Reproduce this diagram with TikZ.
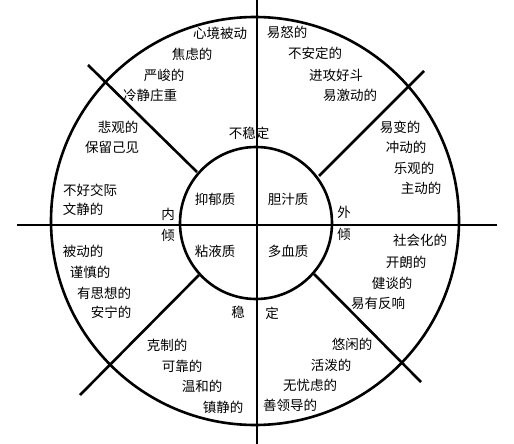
\documentclass[tikz,border=0pt]{standalone}
\usepackage{fontspec}
\newfontfamily\cjk{Noto Sans CJK SC}

\begin{document}
\begin{tikzpicture}[x=1pt, y=-1pt,
    ring/.style={line width=2.6pt},
    divider/.style={line width=2.6pt},
    word/.style={inner sep=0pt, font=\cjk\fontsize{13.5}{16}\selectfont}]
  \useasboundingbox (0,0) rectangle (514,444);
  \coordinate (oc) at (255,221);
  \coordinate (ic) at (256,223);
  \draw[ring] (oc) circle[radius=204];
  \draw[ring] (ic) circle[radius=76];
  % axes
  \coordinate (west) at (17,225);
  \coordinate (east) at (497,225);
  \coordinate (north) at (257,0);
  \coordinate (south) at (257,444);
  \draw[divider] (west) -- (east) (north) -- (south);
  % diagonals
  \coordinate (nwin) at (197,172);
  \coordinate (nwout) at (88,65);
  \coordinate (nein) at (319,176);
  \coordinate (neout) at (424,71);
  \coordinate (swin) at (199,275);
  \coordinate (swout) at (80,395);
  \coordinate (sein) at (314,274);
  \coordinate (seout) at (421,382);
  \draw[divider] (nwin) -- (nwout) (nein) -- (neout) (swin) -- (swout) (sein) -- (seout);
  % temperaments
  \node[word] (melan) at (215,199) {抑郁质};
  \node[word] (chol) at (288,199) {胆汁质};
  \node[word] (phleg) at (215,251) {粘液质};
  \node[word] (sang) at (288,251) {多血质};
  % axis labels
  \node[word] (unst) at (249,133) {不稳定};
  \node[word] (intA) at (168,214) {内};
  \node[word] (intB) at (168,235) {倾};
  \node[word] (extA) at (344,212) {外};
  \node[word] (extB) at (344,234) {倾};
  \node[word] (stA) at (238,312) {稳};
  \node[word] (stB) at (272,313) {定};
  % upper left
  \node[word] (nnw1) at (220,33) {心境被动};
  \node[word] (nnw2) at (192,54) {焦虑的};
  \node[word] (nnw3) at (164,75) {严峻的};
  \node[word] (nnw4) at (150,95) {冷静庄重};
  \node[word] (wnw1) at (118,127) {悲观的};
  \node[word] (wnw2) at (112,147) {保留己见};
  \node[word] (wnw3) at (90,190) {不好交际};
  \node[word] (wnw4) at (83,209) {文静的};
  % upper right
  \node[word] (nne1) at (287,32) {易怒的};
  \node[word] (nne2) at (315,53) {不安定的};
  \node[word] (nne3) at (336,75) {进攻好斗};
  \node[word] (nne4) at (350,95) {易激动的};
  \node[word] (ene1) at (400,127) {易变的};
  \node[word] (ene2) at (406,147) {冲动的};
  \node[word] (ene3) at (414,168) {乐观的};
  \node[word] (ene4) at (421,188) {主动的};
  % lower right
  \node[word] (ese1) at (420,240) {社会化的};
  \node[word] (ese2) at (406,262) {开朗的};
  \node[word] (ese3) at (392,283) {健谈的};
  \node[word] (ese4) at (378,303) {易有反响};
  \node[word] (sse1) at (352,344) {悠闲的};
  \node[word] (sse2) at (331,365) {活泼的};
  \node[word] (sse3) at (310,385) {无忧虑的};
  \node[word] (sse4) at (290,405) {善领导的};
  % lower left
  \node[word] (ssw1) at (167,345) {克制的};
  \node[word] (ssw2) at (182,366) {可靠的};
  \node[word] (ssw3) at (202,386) {温和的};
  \node[word] (ssw4) at (223,407) {镇静的};
  \node[word] (wsw1) at (83,251) {被动的};
  \node[word] (wsw2) at (90,272) {谨慎的};
  \node[word] (wsw3) at (104,293) {有思想的};
  \node[word] (wsw4) at (111,312) {安宁的};
\end{tikzpicture}
\end{document}
